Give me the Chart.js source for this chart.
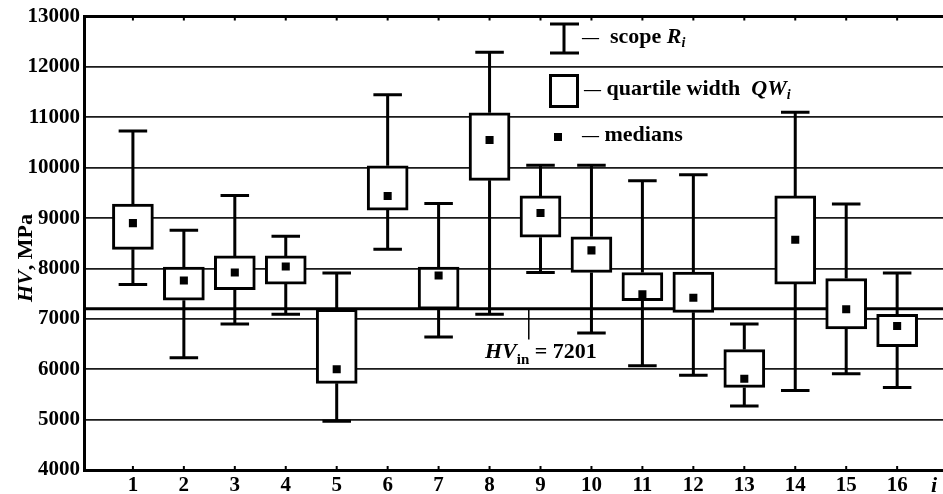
<!DOCTYPE html>
<html>
<head>
<meta charset="utf-8">
<script src="https://cdn.jsdelivr.net/npm/chart.js@4.4.0/dist/chart.umd.min.js"></script>
<style>
  html, body { margin: 0; padding: 0; background: #fff; }
  #wrap { width: 943px; height: 494px; }
</style>
</head>
<body>
<div id="wrap"><canvas id="hvChart" width="943" height="494"></canvas></div>
<script>
// sample numbers i = 1..16
const samples = [1, 2, 3, 4, 5, 6, 7, 8, 9, 10, 11, 12, 13, 14, 15, 16];
// scope R_i (min / max), quartiles, medians in MPa
const hvMax = [10730, 8760, 9450, 8640, 7910, 11450, 9290, 12290, 10050, 10050, 9740, 9860, 6900, 11100, 9280, 7910];
const hvQ3  = [9280, 8030, 8250, 8250, 7190, 10040, 8030, 11090, 9440, 8630, 7920, 7930, 6390, 9440, 7800, 7090];
const hvMed = [8900, 7760, 7920, 8040, 6000, 9440, 7860, 10550, 9100, 8360, 7490, 7420, 5810, 8570, 7190, 6860];
const hvQ1  = [8380, 7370, 7580, 7690, 5720, 9160, 7190, 9750, 8620, 7920, 7360, 7130, 5640, 7690, 6800, 6450];
const hvMin = [7680, 6230, 6900, 7090, 4970, 8380, 6640, 7090, 7920, 6720, 6070, 5880, 5270, 5580, 5910, 5640];
const yTicks = [4000, 5000, 6000, 7000, 8000, 9000, 10000, 11000, 12000, 13000];
const hvIn = 7201;

const SERIF = "'Liberation Serif', 'Times New Roman', serif";

// draw a run of text pieces with different fonts / subscripts
function drawParts(ctx, parts, x, y) {
  ctx.textBaseline = 'alphabetic';
  ctx.textAlign = 'left';
  parts.forEach(p => {
    ctx.font = p.font;
    ctx.fillText(p.t, x, y + (p.dy || 0));
    x += ctx.measureText(p.t).width;
  });
  return x;
}
function partsWidth(ctx, parts) {
  let w = 0;
  parts.forEach(p => { ctx.font = p.font; w += ctx.measureText(p.t).width; });
  return w;
}

const boxPlotExtras = {
  id: 'boxPlotExtras',
  beforeDatasetsDraw(chart) {
    const { ctx, chartArea: a, scales: { x, y } } = chart;
    ctx.save();
    ctx.strokeStyle = '#000';

    // HV_in reference line
    ctx.lineWidth = 3;
    ctx.beginPath();
    ctx.moveTo(a.left, y.getPixelForValue(hvIn));
    ctx.lineTo(a.right, y.getPixelForValue(hvIn));
    ctx.stroke();

    // leader line to the HV_in label
    ctx.lineWidth = 1.5;
    ctx.beginPath();
    ctx.moveTo(x.getPixelForValue(8.77), y.getPixelForValue(hvIn));
    ctx.lineTo(x.getPixelForValue(8.77), y.getPixelForValue(6590));
    ctx.stroke();

    // whiskers (scope R_i)
    ctx.lineWidth = 3;
    samples.forEach((s, i) => {
      const cx = x.getPixelForValue(s);
      const l = x.getPixelForValue(s - 0.28), r = x.getPixelForValue(s + 0.28);
      const yMax = y.getPixelForValue(hvMax[i]), yMin = y.getPixelForValue(hvMin[i]);
      ctx.beginPath();
      ctx.moveTo(cx, yMax); ctx.lineTo(cx, y.getPixelForValue(hvQ3[i]));
      ctx.moveTo(cx, y.getPixelForValue(hvQ1[i])); ctx.lineTo(cx, yMin);
      ctx.moveTo(l, yMax); ctx.lineTo(r, yMax);
      ctx.moveTo(l, yMin); ctx.lineTo(r, yMin);
      ctx.stroke();
    });

    // small inward ticks on top and bottom border
    ctx.lineWidth = 2;
    samples.forEach(s => {
      const cx = x.getPixelForValue(s);
      ctx.beginPath();
      ctx.moveTo(cx, a.top); ctx.lineTo(cx, a.top + 4);
      ctx.moveTo(cx, a.bottom); ctx.lineTo(cx, a.bottom - 4);
      ctx.stroke();
    });
    ctx.restore();
  },
  afterDraw(chart) {
    const { ctx, chartArea: a } = chart;
    ctx.save();
    ctx.fillStyle = '#000';
    ctx.strokeStyle = '#000';

    // top border
    ctx.lineWidth = 3;
    ctx.beginPath();
    ctx.moveTo(a.left, a.top); ctx.lineTo(chart.width, a.top);
    ctx.stroke();

    // legend
    ctx.lineWidth = 3;
    ctx.beginPath();
    ctx.moveTo(564, 24); ctx.lineTo(564, 53);
    ctx.moveTo(550, 24); ctx.lineTo(579, 24);
    ctx.moveTo(550, 53); ctx.lineTo(579, 53);
    ctx.stroke();
    ctx.strokeRect(550.5, 75.5, 27, 31);
    ctx.fillRect(554, 133, 8, 8);

    const B = 'bold 22px ' + SERIF, BI = 'italic bold 22px ' + SERIF;
    const D = 'bold 17px ' + SERIF, SUBI = 'italic bold 14px ' + SERIF;
    drawParts(ctx, [{ t: '—', font: D }, { t: '  scope ', font: B }, { t: 'R', font: BI }, { t: 'i', font: SUBI, dy: 4 }], 582, 43);
    drawParts(ctx, [{ t: '—', font: D }, { t: ' quartile width  ', font: B }, { t: 'QW', font: BI }, { t: 'i', font: SUBI, dy: 4 }], 584, 95);
    drawParts(ctx, [{ t: '—', font: D }, { t: ' medians', font: B }], 582, 141);

    // HV_in label
    drawParts(ctx, [{ t: 'HV', font: BI }, { t: 'in', font: 'bold 15px ' + SERIF, dy: 6 }, { t: ' = 7201', font: B }], 485, 358);

    // y axis title
    const yTitle = [{ t: 'HV', font: BI }, { t: ', MPa', font: B }];
    const w = partsWidth(ctx, yTitle);
    ctx.translate(32, 258);
    ctx.rotate(-Math.PI / 2);
    drawParts(ctx, yTitle, -w / 2, 0);
    ctx.setTransform(1, 0, 0, 1, 0, 0);

    // x axis symbol
    ctx.font = BI;
    ctx.textBaseline = 'middle';
    ctx.fillText('i', 931, 486);
    ctx.restore();
  }
};

const ctx = document.getElementById('hvChart');

new Chart(ctx, {
  data: {
    datasets: [
      {
        type: 'bar',
        label: 'quartile width QWi',
        data: samples.map((s, i) => ({ x: s, y: [hvQ1[i], hvQ3[i]] })),
        backgroundColor: '#fff',
        borderColor: '#000',
        borderWidth: 3,
        borderSkipped: false,
        barThickness: 41,
        order: 2
      },
      {
        type: 'scatter',
        label: 'medians',
        data: samples.map((s, i) => ({ x: s, y: hvMed[i] })),
        pointStyle: 'rect',
        radius: 5.7,
        backgroundColor: '#000',
        borderColor: '#000',
        borderWidth: 0,
        order: 1
      }
    ]
  },
  options: {
    responsive: false,
    animation: false,
    devicePixelRatio: 1,
    layout: { padding: { top: 15, left: 0, right: 0, bottom: 0 }, autoPadding: false },
    plugins: {
      legend: { display: false },
      tooltip: { enabled: false }
    },
    scales: {
      x: {
        type: 'linear',
        offset: false,
        min: 0.04,
        max: 16.9,
        afterBuildTicks: scale => { scale.ticks = samples.map(v => ({ value: v })); },
        afterFit: scale => { scale.height = 24; },
        ticks: {
          color: '#000',
          padding: 3,
          maxRotation: 0,
          autoSkip: false,
          font: { family: SERIF, size: 21, weight: 'bold' }
        },
        grid: { display: false, drawTicks: false },
        border: { display: true, color: '#000', width: 3 }
      },
      y: {
        min: 4000,
        max: 13000,
        afterBuildTicks: scale => { scale.ticks = yTicks.map(v => ({ value: v })); },
        afterFit: scale => { scale.width = 84; },
        ticks: {
          color: '#000',
          padding: 4,
          callback: v => String(v),
          font: { family: SERIF, size: 21, weight: 'bold' }
        },
        grid: {
          color: '#1a1a1a',
          lineWidth: c => (c.tick && (c.tick.value === 4000 || c.tick.value === 13000)) ? 0 : 1.8,
          drawTicks: false
        },
        border: { display: true, color: '#000', width: 3 }
      }
    }
  },
  plugins: [boxPlotExtras]
});
</script>
</body>
</html>
